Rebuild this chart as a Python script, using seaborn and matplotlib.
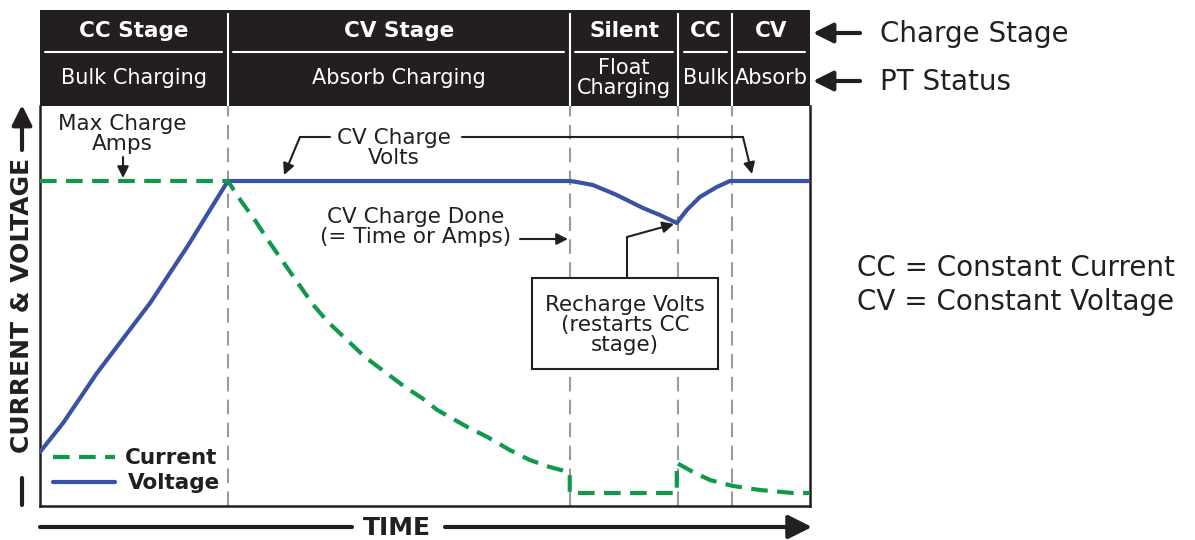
import matplotlib
matplotlib.use("Agg")
import matplotlib.pyplot as plt
import pandas as pd
import seaborn as sns
from matplotlib.patches import Rectangle

# chart data: time runs 0-100 across the plot, level 0-100 bottom to top
stage_edges = [0, 24.4, 68.8, 82.9, 89.9, 100]
stage_names = ["CC Stage", "CV Stage", "Silent", "CC", "CV"]
status_names = ["Bulk Charging", "Absorb Charging", "Float\nCharging", "Bulk", "Absorb"]

current_time = [0, 24.4, 26.2, 27.9, 29.6, 31.4, 33.4, 35.5, 37.4, 39.6, 42.2, 44.8, 47.4,
                49.6, 51.6, 55.5, 58.1, 61.0, 63.6, 66.2, 68.6, 68.8, 68.8, 82.7, 82.7,
                84.8, 87.0, 90.0, 93.5, 97.8, 100]
current_level = [81.25, 81.25, 76.0, 71.5, 66.5, 61.5, 56.0, 50.25, 46.0, 42.0, 37.25, 33.5, 29.75,
                 27.0, 24.0, 19.75, 17.25, 14.0, 11.5, 9.75, 8.5, 8.25, 3.25, 3.25, 10.75,
                 8.5, 6.5, 5.0, 4.0, 3.25, 3.25]

voltage_time = [0, 3.0, 7.4, 14.3, 19.1, 24.4, 68.8, 69.7, 71.8, 74.9, 78.3, 80.5, 82.7,
                84.0, 85.7, 87.9, 89.6, 100]
voltage_level = [13.5, 20.75, 33.25, 50.75, 64.75, 81.25, 81.25, 81.0, 80.25, 77.75, 74.5, 72.75, 70.75,
                 74.0, 77.25, 79.75, 81.25, 81.25]

dark = "#231f20"
green = "#10994a"
blue = "#3953a4"
grey = "#9b9b9b"
W, H = 1195, 540

sns.set_style("white")
plt.rcParams["font.family"] = ["DejaVu Sans"]


def frac(x0, y0, x1, y1):
    # pixel box -> figure fraction
    return [x0 / W, 1 - y1 / H, (x1 - x0) / W, (y1 - y0) / H]


fig = plt.figure(figsize=(W / 100, H / 100), dpi=100)

# main plot area
ax = fig.add_axes(frac(40, 106, 810, 506))
ax.set_xlim(0, 100)
ax.set_ylim(0, 100)

for edge in stage_edges[1:-1]:
    ax.axvline(edge, color=grey, lw=1.5, linestyle=(0, (7, 4)), zorder=1)

cur = pd.DataFrame({"time": current_time, "level": current_level})
volt = pd.DataFrame({"time": voltage_time, "level": voltage_level})
sns.lineplot(data=volt, x="time", y="level", ax=ax, color=blue, lw=3,
             estimator=None, sort=False, zorder=3)
sns.lineplot(data=cur, x="time", y="level", ax=ax, color=green, lw=3,
             linestyle=(0, (4, 2.25)), estimator=None, sort=False, zorder=4)

ax.set_xlabel("")
ax.set_ylabel("")
ax.set_xticks([])
ax.set_yticks([])
ax.spines["top"].set_visible(False)
for s in ["left", "bottom", "right"]:
    ax.spines[s].set_linewidth(1.8)
    ax.spines[s].set_color(dark)

# header band
hdr = fig.add_axes(frac(40, 10, 810, 106))
hdr.set_xlim(0, 100)
hdr.set_ylim(106, 10)
hdr.set_facecolor(dark)
hdr.set_xticks([])
hdr.set_yticks([])
for s in hdr.spines.values():
    s.set_visible(False)
hdr.vlines(stage_edges[1:-1], 13, 106, color="white", lw=1.5)
for i, name in enumerate(stage_names):
    a, b = stage_edges[i], stage_edges[i + 1]
    mid = (a + b) / 2
    hdr.plot([a + 0.7, b - 0.7], [52, 52], color="white", lw=1.5)
    hdr.text(mid, 31, name, color="white", fontsize=15.5, fontweight="bold",
             ha="center", va="center")
    hdr.text(mid, 78, status_names[i], color="white", fontsize=15,
             ha="center", va="center", linespacing=1.05)

# overlay in pixel coordinates for annotations
ov = fig.add_axes([0, 0, 1, 1], zorder=10)
ov.set_xlim(0, W)
ov.set_ylim(H, 0)
ov.axis("off")

small = dict(arrowstyle="-|>", color=dark, lw=1.5, mutation_scale=17, shrinkA=0, shrinkB=0)
big = dict(arrowstyle="-|>", color=dark, lw=3, mutation_scale=30, shrinkA=0, shrinkB=0)

# right-hand labels
ov.annotate("", xy=(813, 33), xytext=(860, 33), arrowprops=big)
ov.annotate("", xy=(813, 81), xytext=(860, 81), arrowprops=big)
ov.text(880, 34, "Charge Stage", fontsize=20, color=dark, va="center")
ov.text(880, 82, "PT Status", fontsize=20, color=dark, va="center")
ov.text(1016, 268, "CC = Constant Current", fontsize=20, color=dark, ha="center", va="center")
ov.text(1016, 302, "CV = Constant Voltage", fontsize=20, color=dark, ha="center", va="center")

# axis labels with arrows
ov.text(22, 305, "CURRENT & VOLTAGE", rotation=90, fontsize=18, fontweight="bold",
        color=dark, ha="center", va="center")
ov.plot([22, 22], [478, 505], color=dark, lw=3)
ov.annotate("", xy=(22, 105), xytext=(22, 150), arrowprops=big)
ov.plot([40, 352], [527, 527], color=dark, lw=3)
ov.text(397, 528, "TIME", fontsize=18, fontweight="bold", color=dark, ha="center", va="center")
ov.annotate("", xy=(812, 527), xytext=(445, 527), arrowprops=dict(big, mutation_scale=36))

# in-plot notes
ov.text(122, 134, "Max Charge\nAmps", fontsize=15.5, color=dark, ha="center", va="center",
        linespacing=1.0)
ov.annotate("", xy=(123, 178), xytext=(123, 157), arrowprops=small)

ov.text(394, 148, "CV Charge\nVolts", fontsize=15.5, color=dark, ha="center", va="center",
        linespacing=1.0)
ov.plot([330, 300], [137, 137], color=dark, lw=1.5)
ov.annotate("", xy=(284, 175), xytext=(300, 137), arrowprops=small)
ov.plot([462, 743], [137, 137], color=dark, lw=1.5)
ov.annotate("", xy=(752, 174), xytext=(743, 137), arrowprops=small)

ov.text(416, 227, "CV Charge Done\n(= Time or Amps)", fontsize=15.5, color=dark,
        ha="center", va="center", linespacing=1.05)
ov.annotate("", xy=(568, 239), xytext=(520, 239), arrowprops=small)

ov.add_patch(Rectangle((532, 278), 186, 91, facecolor="white", edgecolor=dark, lw=1.5, zorder=5))
ov.text(625, 325, "Recharge Volts\n(restarts CC\nstage)", fontsize=15.5, color=dark,
        ha="center", va="center", linespacing=1.0, zorder=6)
ov.plot([627, 627], [278, 237], color=dark, lw=1.5)
ov.annotate("", xy=(674, 224), xytext=(627, 237), arrowprops=small)

# legend
ov.plot([53, 115], [457, 457], color=green, lw=3, linestyle=(0, (4, 2.25)))
ov.plot([53, 115], [482, 482], color=blue, lw=3)
ov.text(125, 458, "Current", fontsize=15.5, fontweight="bold", color=dark, va="center")
ov.text(128, 483, "Voltage", fontsize=15.5, fontweight="bold", color=dark, va="center")

fig.savefig("out.png", dpi=100)
